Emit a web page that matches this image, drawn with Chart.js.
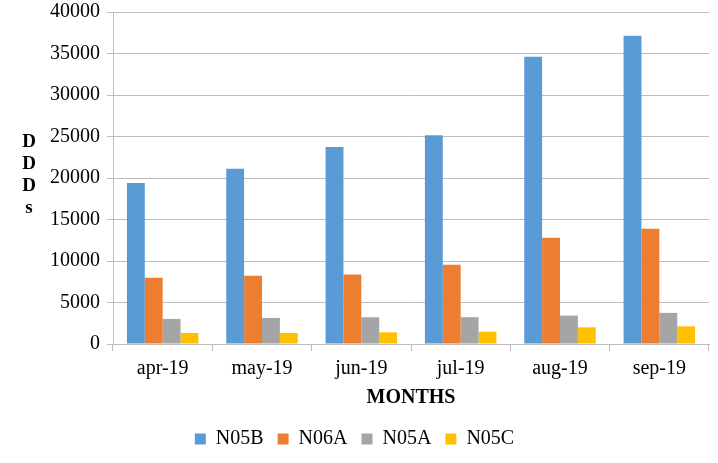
<!DOCTYPE html>
<html>
<head>
<meta charset="utf-8">
<script src="https://cdn.jsdelivr.net/npm/chart.js@4"></script>
<style>
  html, body { margin: 0; padding: 0; background: #fff; }
  #wrap { width: 718px; height: 463px; }
</style>
</head>
<body>
<div id="wrap"><canvas id="myChart"></canvas></div>
<script>
const months = ["apr-19", "may-19", "jun-19", "jul-19", "aug-19", "sep-19"];
const n05b = [19400, 21100, 23750, 25150, 34600, 37150];
const n06a = [7980, 8220, 8380, 9550, 12800, 13900];
const n05a = [3020, 3140, 3220, 3230, 3420, 3750];
const n05c = [1330, 1330, 1410, 1490, 2010, 2130];
const yTicks = [0, 5000, 10000, 15000, 20000, 25000, 30000, 35000, 40000];

const serif = "'Liberation Serif', 'Times New Roman', serif";
const gridGray = "#bdbdbd";

// stacked letters of the y title, written upright like the original
const yTitle = {
  id: "yTitle",
  afterDraw(chart) {
    const c = chart.ctx;
    c.save();
    c.font = "bold 19px " + serif;
    c.fillStyle = "#000";
    c.textAlign = "center";
    c.textBaseline = "middle";
    ["D", "D", "D", "s"].forEach((ch, i) => c.fillText(ch, 29, 142 + i * 22));
    c.restore();
  },
};

const ctx = document.getElementById("myChart");

new Chart(ctx, {
  type: "bar",
  data: {
    labels: months,
    datasets: [
      { label: "N05B", data: n05b, backgroundColor: "#5b9bd5" },
      { label: "N06A", data: n06a, backgroundColor: "#ed7d31" },
      { label: "N05A", data: n05a, backgroundColor: "#a5a5a5" },
      { label: "N05C", data: n05c, backgroundColor: "#ffc000" },
    ],
  },
  options: {
    responsive: true,
    maintainAspectRatio: false,
    animation: false,
    categoryPercentage: 0.72,
    barPercentage: 1,
    layout: { padding: { left: 0, right: 9, top: 12, bottom: 4 } },
    scales: {
      x: {
        grid: { offset: true, drawOnChartArea: false, drawTicks: true, tickLength: 7, color: gridGray },
        border: { color: gridGray },
        ticks: { color: "#000", font: { family: serif, size: 20, lineHeight: 1 }, padding: 8, maxRotation: 0 },
        title: {
          display: true,
          text: "MONTHS",
          color: "#000",
          font: { family: serif, size: 20, weight: "bold", lineHeight: 1 },
          padding: { top: 1, bottom: 7 },
        },
      },
      y: {
        min: 0,
        max: 40000,
        afterBuildTicks: (s) => { s.ticks = yTicks.map((v) => ({ value: v })); },
        afterFit: (s) => { s.width = 113; s.paddingTop = 0; s.paddingBottom = 0; },
        grid: { color: gridGray, tickLength: 6 },
        border: { color: gridGray },
        ticks: {
          color: "#000",
          font: { family: serif, size: 20 },
          padding: 7,
          callback: (v) => String(v),
        },
      },
    },
    plugins: {
      tooltip: { enabled: false },
      legend: {
        position: "bottom",
        labels: {
          color: "#000",
          font: { family: serif, size: 20 },
          boxWidth: 11,
          boxHeight: 11,
          padding: 14,
        },
      },
    },
  },
  plugins: [yTitle],
});
</script>
</body>
</html>
